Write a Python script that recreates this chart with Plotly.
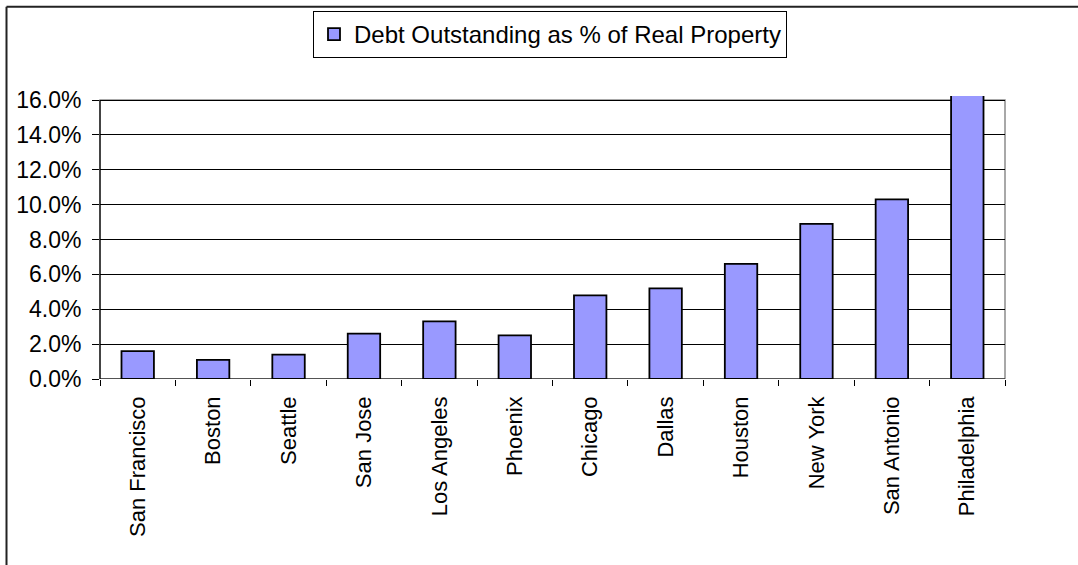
import plotly.graph_objects as go

# Debt outstanding as a share of real property value, by city
cities = ["San Francisco", "Boston", "Seattle", "San Jose", "Los Angeles", "Phoenix",
          "Chicago", "Dallas", "Houston", "New York", "San Antonio", "Philadelphia"]
debt_share = [0.016, 0.011, 0.014, 0.026, 0.033, 0.025,
              0.048, 0.052, 0.066, 0.089, 0.103, 0.200]
series_name = "Debt Outstanding as % of Real Property"
y_ticks = [0.00, 0.02, 0.04, 0.06, 0.08, 0.10, 0.12, 0.14, 0.16]

FONT = "Liberation Sans, Arial, sans-serif"
W, H = 1078, 565
ML, MR, MT, MB = 100, 73, 95, 186
Y_MAX = 0.16
Y_TOP = 0.1623  # bars taller than the axis maximum run a little past the frame

fig = go.Figure(
    go.Bar(
        x=cities,
        y=debt_share,
        name=series_name,
        width=0.43,
        marker=dict(color="#9999FF", line=dict(color="black", width=1.8)),
        showlegend=True,
    )
)

# pixel -> paper helpers for the frame drawn around the whole chart
plot_w = W - ML - MR
plot_h = H - MT - MB
def px_x(p):
    return (p - ML) / plot_w
def px_y(p):
    return (H - MB - p) / plot_h

shapes = [
    # grey plot-area frame (top edge sits on the 16% line)
    dict(type="rect", xref="paper", yref="y", x0=0, x1=1, y0=0, y1=Y_MAX,
         line=dict(color="#8c8c8c", width=1.5), layer="between"),
    # black value and category axes
    dict(type="line", xref="paper", yref="y", x0=0, x1=0, y0=0, y1=Y_MAX,
         line=dict(color="black", width=1.2), layer="above"),
    dict(type="line", xref="paper", yref="y", x0=0, x1=1, y0=0, y1=0,
         line=dict(color="black", width=1.2), layer="above"),
    # outer chart border (left and top)
    dict(type="line", xref="paper", yref="paper", x0=px_x(6.5), x1=px_x(6.5),
         y0=px_y(5.5), y1=px_y(H + 5), line=dict(color="#222222", width=2)),
    dict(type="line", xref="paper", yref="paper", x0=px_x(6.5), x1=px_x(W + 5),
         y0=px_y(5.5), y1=px_y(5.5), line=dict(color="#222222", width=2)),
]

fig.update_layout(
    width=W,
    height=H,
    margin=dict(l=ML, r=MR, t=MT, b=MB, pad=0),
    paper_bgcolor="white",
    plot_bgcolor="white",
    font=dict(family=FONT, color="black"),
    bargap=0.57,
    shapes=shapes,
    legend=dict(
        x=px_x(313), y=px_y(11), xanchor="left", yanchor="top",
        bgcolor="white", bordercolor="black", borderwidth=1,
        font=dict(family=FONT, size=24, color="black"),
    ),
    xaxis=dict(
        type="category",
        tickson="boundaries",
        ticks="outside", ticklen=6, tickcolor="black", tickwidth=1,
        tickangle=-90,
        ticklabelstandoff=12,
        tickfont=dict(family=FONT, size=22, color="black"),
        showgrid=False, showline=False, zeroline=False,
    ),
    yaxis=dict(
        range=[0, Y_TOP],
        tickvals=y_ticks,
        tickformat=".1%",
        ticks="outside", ticklen=7, tickcolor="black", tickwidth=1,
        ticklabelstandoff=6,
        tickfont=dict(family=FONT, size=23, color="black"),
        showgrid=True, gridcolor="black", gridwidth=1,
        showline=False, zeroline=False,
    ),
)

fig.write_html("out.html")
